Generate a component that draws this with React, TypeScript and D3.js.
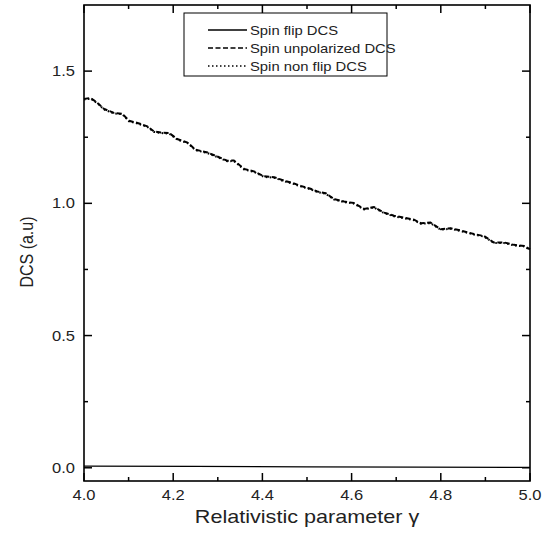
import React from "react";
import * as d3 from "d3";

const gammaUnpol = [4.0, 4.015, 4.03, 4.045, 4.067, 4.086, 4.101, 4.12, 4.142, 4.157, 4.172, 4.191, 4.209, 4.232, 4.25, 4.277, 4.299, 4.321, 4.336, 4.359, 4.381, 4.404, 4.426, 4.448, 4.467, 4.486, 4.508, 4.523, 4.542, 4.561, 4.583, 4.605, 4.628, 4.65, 4.673, 4.695, 4.717, 4.74, 4.755, 4.777, 4.8, 4.822, 4.845, 4.874, 4.897, 4.919, 4.942, 4.964, 4.987, 5.0];
const dcsUnpol = [1.395, 1.398, 1.38, 1.357, 1.342, 1.339, 1.312, 1.304, 1.291, 1.272, 1.268, 1.266, 1.243, 1.23, 1.203, 1.192, 1.177, 1.161, 1.162, 1.13, 1.121, 1.102, 1.099, 1.086, 1.077, 1.066, 1.055, 1.045, 1.038, 1.016, 1.007, 1.001, 0.979, 0.986, 0.965, 0.953, 0.946, 0.938, 0.925, 0.927, 0.902, 0.906, 0.897, 0.884, 0.876, 0.852, 0.852, 0.843, 0.839, 0.826];
const dcsNonFlip = [1.393, 1.396, 1.378, 1.355, 1.34, 1.337, 1.31, 1.302, 1.289, 1.27, 1.266, 1.264, 1.241, 1.228, 1.201, 1.19, 1.175, 1.159, 1.16, 1.128, 1.119, 1.1, 1.097, 1.084, 1.075, 1.064, 1.053, 1.043, 1.036, 1.014, 1.005, 0.999, 0.977, 0.984, 0.963, 0.951, 0.944, 0.936, 0.923, 0.925, 0.9, 0.904, 0.895, 0.882, 0.874, 0.85, 0.85, 0.841, 0.837, 0.824];
const gammaFlip = [4.0, 4.25, 4.5, 4.75, 5.0];
const dcsFlip = [0.006, 0.005, 0.0035, 0.0025, 0.0015];

const xTicks = [4.0, 4.2, 4.4, 4.6, 4.8, 5.0];
const xMinor = [4.1, 4.3, 4.5, 4.7, 4.9];
const yTicks = [0.0, 0.5, 1.0, 1.5];
const yMinor = [0.25, 0.75, 1.25];
const legendLabels = ["Spin flip DCS", "Spin unpolarized DCS", "Spin non flip DCS"];

const L = 84, R = 530, T = 5, B = 481;
const SX = 1.18;

export default function App() {
  const x = d3.scaleLinear().domain([4.0, 5.0]).range([L, R]);
  const y = d3.scaleLinear().domain([-0.05, 1.75]).range([B, T]);
  const line = d3.line<[number, number]>().x(d => x(d[0])).y(d => y(d[1]));
  const unpol = line(gammaUnpol.map((g, i) => [g, dcsUnpol[i]]) as [number, number][]) || "";
  const nonflip = line(gammaUnpol.map((g, i) => [g, dcsNonFlip[i]]) as [number, number][]) || "";
  const flip = line(gammaFlip.map((g, i) => [g, dcsFlip[i]]) as [number, number][]) || "";
  const font = "Liberation Sans, Arial, Helvetica, sans-serif";
  const styles = [
    { dash: undefined, w: 1.3 },
    { dash: "5,2.5", w: 1.5 },
    { dash: "1.5,2.5", w: 1.5 },
  ];
  return (
    <svg width={550} height={535} style={{ position: "absolute", left: 0, top: 0, background: "#fff" }} fontFamily={font}>
      <rect x={0} y={0} width={550} height={535} fill="#fff" />
      {/* curves */}
      <path d={flip} fill="none" stroke="#000" strokeWidth={1.3} />
      <path d={unpol} fill="none" stroke="#000" strokeWidth={2} strokeDasharray="5,2.5" />
      <path d={nonflip} fill="none" stroke="#000" strokeWidth={2} strokeDasharray="1.5,2.5" />
      {/* ticks */}
      {xTicks.map(t => (
        <g key={"xt" + t}>
          <line x1={x(t)} x2={x(t)} y1={B} y2={B - 8} stroke="#000" strokeWidth={1.5} />
          <line x1={x(t)} x2={x(t)} y1={T} y2={T + 8} stroke="#000" strokeWidth={1.5} />
          <text transform={`translate(${x(t)},500) scale(${SX},1)`} textAnchor="middle" fontSize={14} fill="#222">{t.toFixed(1)}</text>
        </g>
      ))}
      {xMinor.map(t => (
        <g key={"xm" + t}>
          <line x1={x(t)} x2={x(t)} y1={B} y2={B - 4} stroke="#000" strokeWidth={1.5} />
          <line x1={x(t)} x2={x(t)} y1={T} y2={T + 4} stroke="#000" strokeWidth={1.5} />
        </g>
      ))}
      {yTicks.map(t => (
        <g key={"yt" + t}>
          <line x1={L} x2={L + 8} y1={y(t)} y2={y(t)} stroke="#000" strokeWidth={1.5} />
          <line x1={R} x2={R - 8} y1={y(t)} y2={y(t)} stroke="#000" strokeWidth={1.5} />
          <text transform={`translate(75,${y(t) + 5}) scale(${SX},1)`} textAnchor="end" fontSize={14} fill="#222">{t.toFixed(1)}</text>
        </g>
      ))}
      {yMinor.map(t => (
        <g key={"ym" + t}>
          <line x1={L} x2={L + 4} y1={y(t)} y2={y(t)} stroke="#000" strokeWidth={1.5} />
          <line x1={R} x2={R - 4} y1={y(t)} y2={y(t)} stroke="#000" strokeWidth={1.5} />
        </g>
      ))}
      {/* frame */}
      <rect x={L} y={T} width={R - L} height={B - T} fill="none" stroke="#000" strokeWidth={1.6} />
      {/* axis titles */}
      <text transform={`translate(${(L + R) / 2},523) scale(1.2,1)`} textAnchor="middle" fontSize={18} fill="#222">Relativistic parameter γ</text>
      <text transform={`translate(33,252) scale(1.2,1) rotate(-90)`} textAnchor="middle" fontSize={16} fill="#222">DCS (a.u)</text>
      {/* legend */}
      <rect x={184} y={13} width={203} height={63} fill="#fff" stroke="#000" strokeWidth={1} />
      {legendLabels.map((lab, i) => (
        <g key={lab}>
          <line x1={208} x2={247} y1={30 + i * 18} y2={30 + i * 18} stroke="#000" strokeWidth={styles[i].w} strokeDasharray={styles[i].dash} />
          <text transform={`translate(250,${34.5 + i * 18}) scale(1.14,1)`} fontSize={13} fill="#222">{lab}</text>
        </g>
      ))}
    </svg>
  );
}
